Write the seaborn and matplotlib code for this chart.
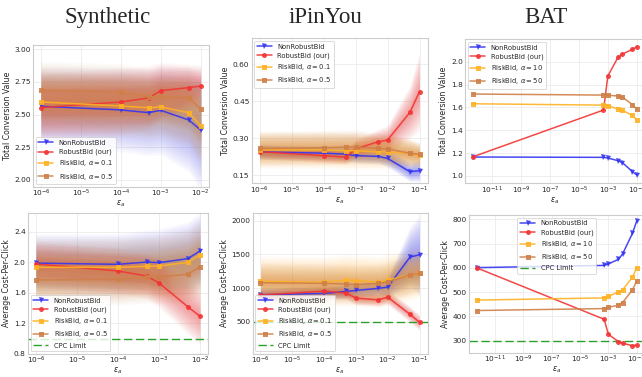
import matplotlib
matplotlib.use("Agg")
import matplotlib.pyplot as plt
import seaborn as sns
import numpy as np

sns.set_style("whitegrid")
plt.rcParams['font.family'] = ['DejaVu Sans']

# ---------------- data ----------------
method_labels = ["NonRobustBid", "RobustBid (our)"]
risk_labels_small = [r"RiskBid, $\alpha = 0.1$", r"RiskBid, $\alpha = 0.5$"]
risk_labels_bat = [r"RiskBid, $\alpha = 10$", r"RiskBid, $\alpha = 50$"]
dataset_titles = ["Synthetic", "iPinYou", "BAT"]

# Synthetic
syn_eps = [1e-6, 1e-4, 5e-4, 1e-3, 5e-3, 1e-2]
syn_tcv_nonrobust = [2.563, 2.535, 2.514, 2.532, 2.458, 2.381]
syn_tcv_robust = [2.553, 2.596, 2.627, 2.683, 2.706, 2.719]
syn_tcv_risk01 = [2.596, 2.565, 2.552, 2.558, 2.514, 2.414]
syn_tcv_risk05 = [2.688, 2.670, 2.637, 2.637, 2.629, 2.542]
syn_tcv_nonrobust_spread = [0.30, 0.32, 0.33, 0.34, 0.40, 0.46]
syn_tcv_robust_spread = [0.26, 0.26, 0.25, 0.22, 0.18, 0.16]
syn_tcv_risk01_spread = [0.24, 0.24, 0.24, 0.24, 0.26, 0.30]
syn_tcv_risk05_spread = [0.22, 0.22, 0.22, 0.22, 0.24, 0.27]

syn_cpc_nonrobust = [1.990, 1.974, 2.004, 1.996, 2.048, 2.148]
syn_cpc_robust = [1.978, 1.887, 1.821, 1.730, 1.420, 1.294]
syn_cpc_risk01 = [1.935, 1.935, 1.948, 1.952, 2.000, 2.100]
syn_cpc_risk05 = [1.769, 1.778, 1.804, 1.810, 1.843, 1.943]
syn_cpc_nonrobust_spread = [0.38, 0.40, 0.42, 0.44, 0.48, 0.50]
syn_cpc_robust_spread = [0.30, 0.30, 0.30, 0.32, 0.36, 0.38]
syn_cpc_risk01_spread = [0.40, 0.40, 0.40, 0.42, 0.44, 0.46]
syn_cpc_risk05_spread = [0.34, 0.34, 0.34, 0.36, 0.38, 0.40]
syn_cpc_limit = 1.0

# iPinYou
ipy_eps = [1e-6, 1e-4, 5e-4, 1e-3, 5e-3, 1e-2, 5e-2, 1e-1]
ipy_tcv_nonrobust = [0.245, 0.240, 0.236, 0.230, 0.227, 0.219, 0.165, 0.169]
ipy_tcv_robust = [0.246, 0.230, 0.224, 0.257, 0.286, 0.293, 0.405, 0.489]
ipy_tcv_risk01 = [0.253, 0.253, 0.250, 0.250, 0.245, 0.245, 0.240, 0.231]
ipy_tcv_risk05 = [0.259, 0.262, 0.265, 0.265, 0.259, 0.257, 0.240, 0.235]
ipy_tcv_nonrobust_spread = [0.03, 0.03, 0.03, 0.03, 0.03, 0.035, 0.04, 0.045]
ipy_tcv_robust_spread = [0.03, 0.03, 0.03, 0.04, 0.05, 0.06, 0.11, 0.16]
ipy_tcv_risk01_spread = [0.075, 0.075, 0.075, 0.075, 0.07, 0.07, 0.06, 0.05]
ipy_tcv_risk05_spread = [0.07, 0.07, 0.07, 0.07, 0.065, 0.065, 0.055, 0.05]

ipy_cpc_nonrobust = [900, 920, 950, 965, 995, 1015, 1460, 1495]
ipy_cpc_robust = [895, 955, 925, 850, 825, 865, 610, 490]
ipy_cpc_risk01 = [1100, 1085, 1115, 1110, 1090, 1120, 1190, 1230]
ipy_cpc_risk05 = [1080, 1070, 1060, 1050, 1070, 1090, 1195, 1220]
ipy_cpc_nonrobust_spread = [100, 100, 110, 110, 120, 150, 450, 600]
ipy_cpc_robust_spread = [100, 100, 100, 100, 100, 110, 120, 120]
ipy_cpc_risk01_spread = [380, 380, 380, 380, 380, 380, 380, 380]
ipy_cpc_risk05_spread = [300, 300, 300, 300, 300, 300, 300, 300]
ipy_cpc_limit = 500

# BAT
bat_eps = [5e-13, 5e-4, 1e-3, 5e-3, 1e-2, 5e-2, 1e-1]
bat_tcv_nonrobust = [1.166, 1.163, 1.157, 1.134, 1.117, 1.038, 1.009]
bat_tcv_robust = [1.169, 1.577, 1.875, 2.038, 2.067, 2.108, 2.131]
bat_tcv_risk10 = [1.632, 1.620, 1.616, 1.585, 1.575, 1.530, 1.490]
bat_tcv_risk50 = [1.717, 1.708, 1.706, 1.700, 1.690, 1.625, 1.585]

bat_cpc_nonrobust = [601, 610, 616, 635, 657, 742, 793]
bat_cpc_robust = [600, 388, 326, 296, 289, 279, 281]
bat_cpc_risk10 = [467, 476, 483, 500, 509, 561, 601]
bat_cpc_risk50 = [424, 432, 437, 446, 457, 509, 546]
bat_cpc_limit = 300

# ---------------- style ----------------
colors = ["#3434f2", "#f23434", "#ffb224", "#cf8048"]
markers = ["v", "o", "s", "s"]
W, H = 642, 377
FS_TICK, FS_LAB, FS_LEG = 5.3, 5.6, 4.9

fig = plt.figure(figsize=(W / 100, H / 100), dpi=100)


def make_ax(l, r, t, b):
    return fig.add_axes([l / W, 1 - b / H, (r - l) / W, (b - t) / H])


def panel(ax, eps, series, spreads, labels, ylabel, ylim, yticks, xticks,
          legend_loc, limit=None, ytickfmt=None):
    ax.set_xscale("log")
    x = np.array(eps)
    if spreads is not None:
        n = 18
        for vals, spr, c in zip(series, spreads, colors):
            m = np.array(vals, dtype=float)
            s = np.array(spr, dtype=float)
            for k in range(1, n + 1):
                f = k / n
                ax.fill_between(x, m - s * f, m + s * f, color=c,
                                alpha=0.032, lw=0, zorder=1)
    for vals, c, mk, lab in zip(series, colors, markers, labels):
        sns.lineplot(x=eps, y=vals, ax=ax, color=c, marker=mk, markersize=3.6,
                     markeredgewidth=0, linewidth=1.1, label=lab,
                     errorbar=None, zorder=3, alpha=0.9)
    if limit is not None:
        ax.axhline(limit, color="#2ca02c", ls=(0, (6, 2.6)), lw=1.0,
                   label="CPC Limit", zorder=2)
    ax.set_ylim(*ylim)
    ax.set_yticks(yticks)
    if ytickfmt:
        ax.set_yticklabels([ytickfmt.format(v) for v in yticks])
    ax.set_xticks(xticks)
    ax.minorticks_off()
    ax.tick_params(axis="y", labelsize=FS_TICK, pad=1.5, length=0)
    ax.tick_params(axis="x", labelsize=FS_TICK, pad=0.8, length=0)
    ax.set_xlabel(r"$\varepsilon_a$", fontsize=FS_LAB, labelpad=-0.5)
    ax.set_ylabel(ylabel, fontsize=FS_LAB, labelpad=2)
    ax.grid(True, color="#ebebeb", lw=0.6)
    for sp in ax.spines.values():
        sp.set_color("#cccccc")
        sp.set_linewidth(0.8)
    leg = ax.legend(loc=legend_loc, fontsize=FS_LEG, frameon=True,
                    borderpad=0.4, labelspacing=0.45, handlelength=2.2,
                    borderaxespad=0.4)
    leg.get_frame().set_linewidth(0.6)
    leg.get_frame().set_edgecolor("#cccccc")


ticks_syn = [1e-6, 1e-5, 1e-4, 1e-3, 1e-2]
ticks_ipy = [1e-6, 1e-5, 1e-4, 1e-3, 1e-2, 1e-1]
ticks_bat = [1e-11, 1e-9, 1e-7, 1e-5, 1e-3, 1e-1]

ax1 = make_ax(33, 208.7, 45, 187)
panel(ax1, syn_eps,
      [syn_tcv_nonrobust, syn_tcv_robust, syn_tcv_risk01, syn_tcv_risk05],
      [syn_tcv_nonrobust_spread, syn_tcv_robust_spread, syn_tcv_risk01_spread, syn_tcv_risk05_spread],
      method_labels + risk_labels_small, "Total Conversion Value",
      (1.944, 3.033), [2.0, 2.25, 2.5, 2.75, 3.0], ticks_syn, "lower left",
      ytickfmt="{:.2f}")

ax2 = make_ax(251.5, 427.5, 38.3, 183.3)
panel(ax2, ipy_eps,
      [ipy_tcv_nonrobust, ipy_tcv_robust, ipy_tcv_risk01, ipy_tcv_risk05],
      [ipy_tcv_nonrobust_spread, ipy_tcv_robust_spread, ipy_tcv_risk01_spread, ipy_tcv_risk05_spread],
      method_labels + risk_labels_small, "Total Conversion Value",
      (0.118, 0.705), [0.15, 0.30, 0.45, 0.60], ticks_ipy, "upper left",
      ytickfmt="{:.2f}")

ax3 = make_ax(465, 645, 39.3, 183.3)
panel(ax3, bat_eps,
      [bat_tcv_nonrobust, bat_tcv_robust, bat_tcv_risk10, bat_tcv_risk50],
      None, method_labels + risk_labels_bat, "Total Conversion Value",
      (0.936, 2.196), [1.0, 1.2, 1.4, 1.6, 1.8, 2.0], ticks_bat, "upper left",
      ytickfmt="{:.1f}")

ax4 = make_ax(27.8, 208.2, 212.7, 354)
panel(ax4, syn_eps,
      [syn_cpc_nonrobust, syn_cpc_robust, syn_cpc_risk01, syn_cpc_risk05],
      [syn_cpc_nonrobust_spread, syn_cpc_robust_spread, syn_cpc_risk01_spread, syn_cpc_risk05_spread],
      method_labels + risk_labels_small, "Average Cost-Per-Click",
      (0.8, 2.65), [0.8, 1.2, 1.6, 2.0, 2.4], ticks_syn, "lower left",
      limit=syn_cpc_limit, ytickfmt="{:.1f}")

ax5 = make_ax(252.5, 427.5, 212.7, 354)
panel(ax5, ipy_eps,
      [ipy_cpc_nonrobust, ipy_cpc_robust, ipy_cpc_risk01, ipy_cpc_risk05],
      [ipy_cpc_nonrobust_spread, ipy_cpc_robust_spread, ipy_cpc_risk01_spread, ipy_cpc_risk05_spread],
      method_labels + risk_labels_small, "Average Cost-Per-Click",
      (20, 2120), [500, 1000, 1500, 2000], ticks_ipy, "lower left",
      limit=ipy_cpc_limit, ytickfmt="{:.0f}")

ax6 = make_ax(468.7, 644.7, 215, 352.7)
panel(ax6, bat_eps,
      [bat_cpc_nonrobust, bat_cpc_robust, bat_cpc_risk10, bat_cpc_risk50],
      None, method_labels + risk_labels_bat, "Average Cost-Per-Click",
      (250, 818), [300, 400, 500, 600, 700, 800], ticks_bat, "upper center",
      limit=bat_cpc_limit, ytickfmt="{:.0f}")

for title, xc in zip(dataset_titles, [108, 326, 546]):
    fig.text(xc / W, 1 - 23 / H, title, family="Liberation Serif",
             fontsize=16.5, ha="center", va="baseline")

fig.savefig("out.png", dpi=100)
